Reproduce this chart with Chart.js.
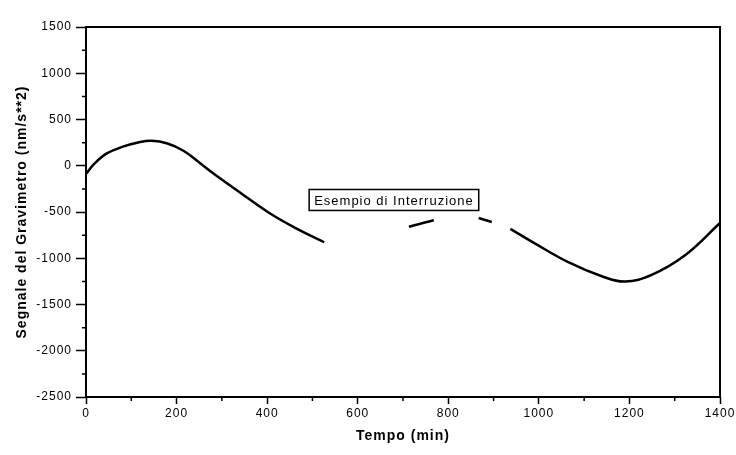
<!DOCTYPE html>
<html>
<head>
<meta charset="utf-8">
<script src="https://cdn.jsdelivr.net/npm/chart.js@4.4.1/dist/chart.umd.min.js"></script>
<style>
  html, body { margin: 0; padding: 0; background: #fff; }
  #wrap { width: 736px; height: 455px; }
</style>
</head>
<body>
<div id="wrap"><canvas id="grav"></canvas></div>
<script>
// time (min) and gravimeter signal (nm/s**2); null = interruption
const minutes = [0, 18, 46, 83, 115, 145, 180, 216, 250, 283, 343, 403, 463, 526, 620,
                 713, 740, 768, 820, 867, 896, 915,
                 937, 990, 1065, 1139, 1190, 1249, 1322, 1400];
const signal  = [-90, 20, 133, 209, 252, 270, 240, 160, 35, -90, -300, -505, -674, -827, null,
                 -659, -624, -590, null, -565, -608, null,
                 -682, -836, -1042, -1194, -1252, -1180, -971, -619];

const xTicks = [0, 200, 400, 600, 800, 1000, 1200, 1400];
const yTicks = [-2500, -2000, -1500, -1000, -500, 0, 500, 1000, 1500];

const noteText = 'Esempio di Interruzione';
const noteAt = { x: 680, y: -370 };

const FONT = "'Liberation Sans', Arial, sans-serif";

const spacingPlugin = {
    id: 'spacing',
    beforeDraw(chart) { chart.ctx.letterSpacing = '1px'; },
    afterDraw(chart) { chart.ctx.letterSpacing = '0px'; }
};

// box frame + minor ticks
const framePlugin = {
    id: 'frame',
    afterDraw(chart) {
        const ctx = chart.ctx;
        const a = chart.chartArea;
        const xs = chart.scales.x, ys = chart.scales.y;
        ctx.save();
        ctx.strokeStyle = '#000';
        ctx.lineWidth = 2;
        ctx.strokeRect(a.left, a.top, a.right - a.left, a.bottom - a.top);
        ctx.lineWidth = 1.5;
        ctx.beginPath();
        for (let i = 0; i < xTicks.length - 1; i++) {
            const px = xs.getPixelForValue((xTicks[i] + xTicks[i + 1]) / 2);
            ctx.moveTo(px, a.bottom);
            ctx.lineTo(px, a.bottom + 4);
        }
        for (let i = 0; i < yTicks.length - 1; i++) {
            const py = ys.getPixelForValue((yTicks[i] + yTicks[i + 1]) / 2);
            ctx.moveTo(a.left, py);
            ctx.lineTo(a.left - 4, py);
        }
        ctx.stroke();
        ctx.restore();
    }
};

const notePlugin = {
    id: 'note',
    afterDatasetsDraw(chart) {
        const ctx = chart.ctx;
        const cx = chart.scales.x.getPixelForValue(noteAt.x);
        const cy = chart.scales.y.getPixelForValue(noteAt.y);
        ctx.save();
        ctx.font = '13px ' + FONT;
        ctx.letterSpacing = '1px';
        const w = ctx.measureText(noteText).width + 10;
        const h = 21;
        ctx.fillStyle = '#fff';
        ctx.fillRect(cx - w / 2, cy - h / 2, w, h);
        ctx.strokeStyle = '#000';
        ctx.lineWidth = 1.5;
        ctx.strokeRect(cx - w / 2, cy - h / 2, w, h);
        ctx.fillStyle = '#000';
        ctx.textAlign = 'center';
        ctx.textBaseline = 'middle';
        ctx.fillText(noteText, cx, cy + 1);
        ctx.restore();
    }
};

new Chart(document.getElementById('grav'), {
    type: 'line',
    data: {
        datasets: [{
            data: minutes.map((m, i) => ({ x: m, y: signal[i] })),
            borderColor: '#000',
            borderWidth: 2.5,
            pointRadius: 0,
            fill: false,
            spanGaps: false,
            tension: 0.4
        }]
    },
    options: {
        responsive: true,
        maintainAspectRatio: false,
        animation: false,
        layout: { padding: { left: 0, right: 16, top: 27, bottom: 0 } },
        plugins: { legend: { display: false }, tooltip: { enabled: false } },
        scales: {
            x: {
                type: 'linear',
                min: 0, max: 1400,
                afterBuildTicks: s => { s.ticks = xTicks.map(v => ({ value: v })); },
                afterFit: s => { s.height = 58; },
                border: { display: false },
                grid: { drawOnChartArea: false, tickLength: 7, tickColor: '#000', tickWidth: 1.5 },
                ticks: { color: '#000', padding: 2, maxRotation: 0, font: { family: FONT, size: 12 },
                         callback: v => String(v) },
                title: { display: true, text: 'Tempo (min)', color: '#000',
                         font: { family: FONT, size: 14, weight: 'bold' },
                         padding: { top: 0, bottom: 10 } }
            },
            y: {
                min: -2500, max: 1500,
                afterBuildTicks: s => { s.ticks = yTicks.map(v => ({ value: v })); },
                afterFit: s => { s.width = 86; },
                border: { display: false },
                grid: { drawOnChartArea: false, tickLength: 10, tickColor: '#000', tickWidth: 1.5 },
                ticks: { color: '#000', padding: 4, font: { family: FONT, size: 12 },
                         callback: v => String(v) },
                title: { display: true, text: 'Segnale del Gravimetro (nm/s**2)', color: '#000',
                         font: { family: FONT, size: 14, weight: 'bold' },
                         padding: { top: 14, bottom: 0 } }
            }
        }
    },
    plugins: [spacingPlugin, framePlugin, notePlugin]
});
</script>
</body>
</html>
